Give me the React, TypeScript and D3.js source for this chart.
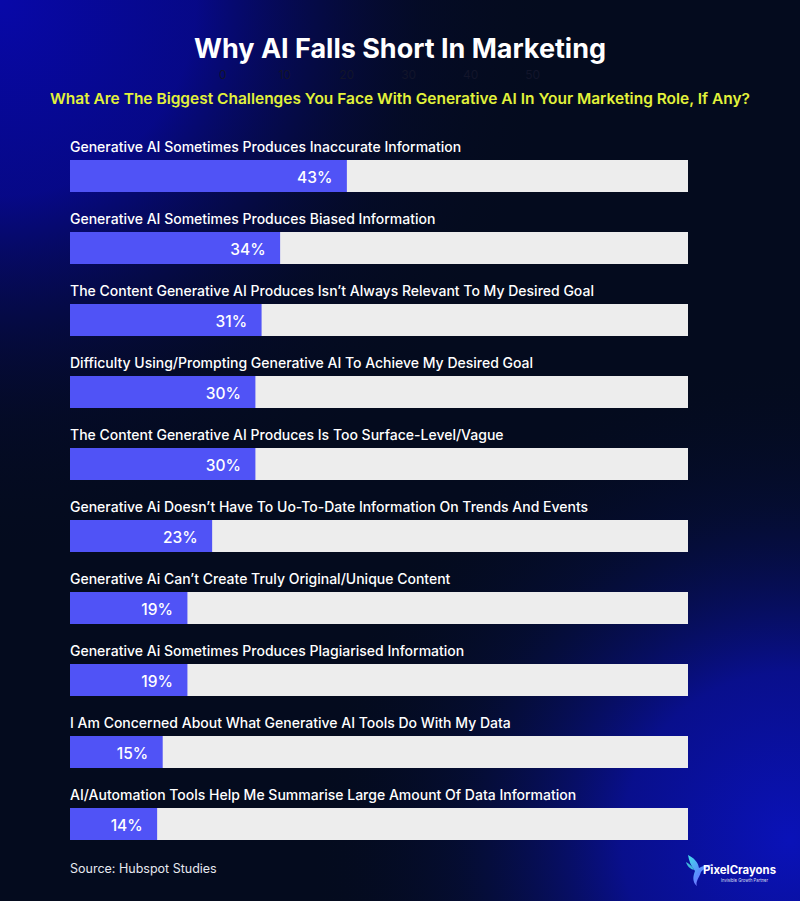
import React from "react";
import * as d3 from "d3";

const categories = [
  "Generative AI Sometimes Produces Inaccurate Information",
  "Generative AI Sometimes Produces Biased Information",
  "The Content Generative AI Produces Isn\u2019t Always Relevant To My Desired Goal",
  "Difficulty Using/Prompting Generative AI To Achieve My Desired Goal",
  "The Content Generative AI  Produces Is Too Surface-Level/Vague",
  "Generative Ai Doesn\u2019t Have To Uo-To-Date Information On Trends And Events",
  "Generative Ai Can\u2019t Create Truly Original/Unique Content",
  "Generative Ai Sometimes Produces Plagiarised Information",
  "I Am Concerned About What Generative AI Tools Do With My Data",
  "AI/Automation Tools Help Me Summarise Large Amount Of Data Information",
];
// bar lengths as drawn in the picture
const barValues = [44.8, 34, 31, 30, 30, 23, 19, 19, 15, 14.1];
// printed labels
const pctLabels = ["43%", "34%", "31%", "30%", "30%", "23%", "19%", "19%", "15%", "14%"];
const axisTicks = [0, 10, 20, 30, 40, 50];

const W = 800;
const H = 901;
const FONT = "Inter, 'Open Sans', sans-serif";

export default function App() {
  const x = d3.scaleLinear().domain([0, 100]).range([70, 688]);
  const y = d3
    .scaleBand<number>()
    .domain(d3.range(categories.length))
    .range([124, 124 + 72 * categories.length])
    .paddingInner(0)
    .paddingOuter(0);
  const barH = 32;
  const tickX = d3.scaleLinear().domain([0, 50]).range([222.7, 532.7]);

  return (
    <div style={{ position: "fixed", left: 0, top: 0, width: W, height: H, overflow: "hidden" }}>
      <svg width={W} height={H} style={{ display: "block" }}>
        <defs>
          <radialGradient id="tl" cx="0" cy="0" r="560" gradientUnits="userSpaceOnUse">
            <stop offset="0" stopColor="#0808a8" stopOpacity="1" />
            <stop offset="0.35" stopColor="#07089a" stopOpacity="0.85" />
            <stop offset="0.75" stopColor="#050a40" stopOpacity="0.25" />
            <stop offset="1" stopColor="#040b20" stopOpacity="0" />
          </radialGradient>
          <radialGradient id="br" cx="790" cy="840" r="480" gradientUnits="userSpaceOnUse">
            <stop offset="0" stopColor="#0a12b8" stopOpacity="1" />
            <stop offset="0.35" stopColor="#0a10a8" stopOpacity="0.8" />
            <stop offset="0.7" stopColor="#06105a" stopOpacity="0.3" />
            <stop offset="1" stopColor="#040b20" stopOpacity="0" />
          </radialGradient>
          <linearGradient id="bird" x1="0" y1="0" x2="1" y2="1">
            <stop offset="0" stopColor="#43e0e8" />
            <stop offset="0.5" stopColor="#5a8cff" />
            <stop offset="1" stopColor="#9a4cff" />
          </linearGradient>
        </defs>
        <rect x={0} y={0} width={W} height={H} fill="#040b1e" />
        <rect x={0} y={0} width={W} height={H} fill="url(#tl)" />
        <rect x={0} y={0} width={W} height={H} fill="url(#br)" />

        <text x={400} y={58} textAnchor="middle" fill="#ffffff" fontFamily={FONT} fontWeight={700} fontSize={27}
          textLength={412} lengthAdjust="spacingAndGlyphs">
          Why AI Falls Short In Marketing
        </text>

        <g>
          {axisTicks.map((t) => (
            <text key={t} x={tickX(t)} y={79} textAnchor="middle" fill="#12152b"
              fontFamily={FONT} fontSize={12}>
              {t}
            </text>
          ))}
        </g>

        <text x={400} y={104} textAnchor="middle" fill="#e2f23a" fontFamily={FONT} fontWeight={600} fontSize={15}
          textLength={700} lengthAdjust="spacingAndGlyphs">
          What Are The Biggest Challenges You Face With Generative AI In Your Marketing Role, If Any?
        </text>

        {categories.map((c, i) => {
          const top = (y(i) as number) + 36;
          return (
            <g key={i}>
              <text x={70} y={top - 8.5} fill="#ffffff" fontFamily={FONT} fontWeight={500} fontSize={14}>
                {c}
              </text>
              <rect x={x(0)} y={top} width={x(100) - x(0)} height={barH} fill="#ededed" />
              <rect x={x(0)} y={top} width={x(barValues[i]) - x(0)} height={barH} fill="#5053f6" />
              <text x={x(barValues[i]) - 14.5} y={top + 23.3} textAnchor="end" fill="#ffffff"
                fontFamily={FONT} fontWeight={500} fontSize={15.5}>
                {pctLabels[i]}
              </text>
            </g>
          );
        })}

        <text x={70} y={873} fill="#e6e8ef" fontFamily={FONT} fontSize={12.5}>
          Source: Hubspot Studies
        </text>

        <g>
          <path d="M688,855 C694,858 698,862 699,868 C703,866 708,864 713,865 C708,867 703,869 701,872 C699,878 695,882 697,886 C692,882 693,876 695,871 C691,866 689,861 688,855 Z"
            fill="url(#bird)" />
          <path d="M686,862 C690,864 693,867 694,870 C690,869 687,866 686,862 Z" fill="#4ad8e6" opacity={0.85} />
          <text x={703} y={874} fill="#ffffff" fontFamily={FONT} fontWeight={700} fontSize={12}
            textLength={73} lengthAdjust="spacingAndGlyphs">
            PixelCrayons
          </text>
          <text x={721} y={882} fill="#d8dcf0" fontFamily={FONT} fontSize={5}
            textLength={47} lengthAdjust="spacingAndGlyphs">
            Invisible Growth Partner
          </text>
        </g>
      </svg>
    </div>
  );
}
